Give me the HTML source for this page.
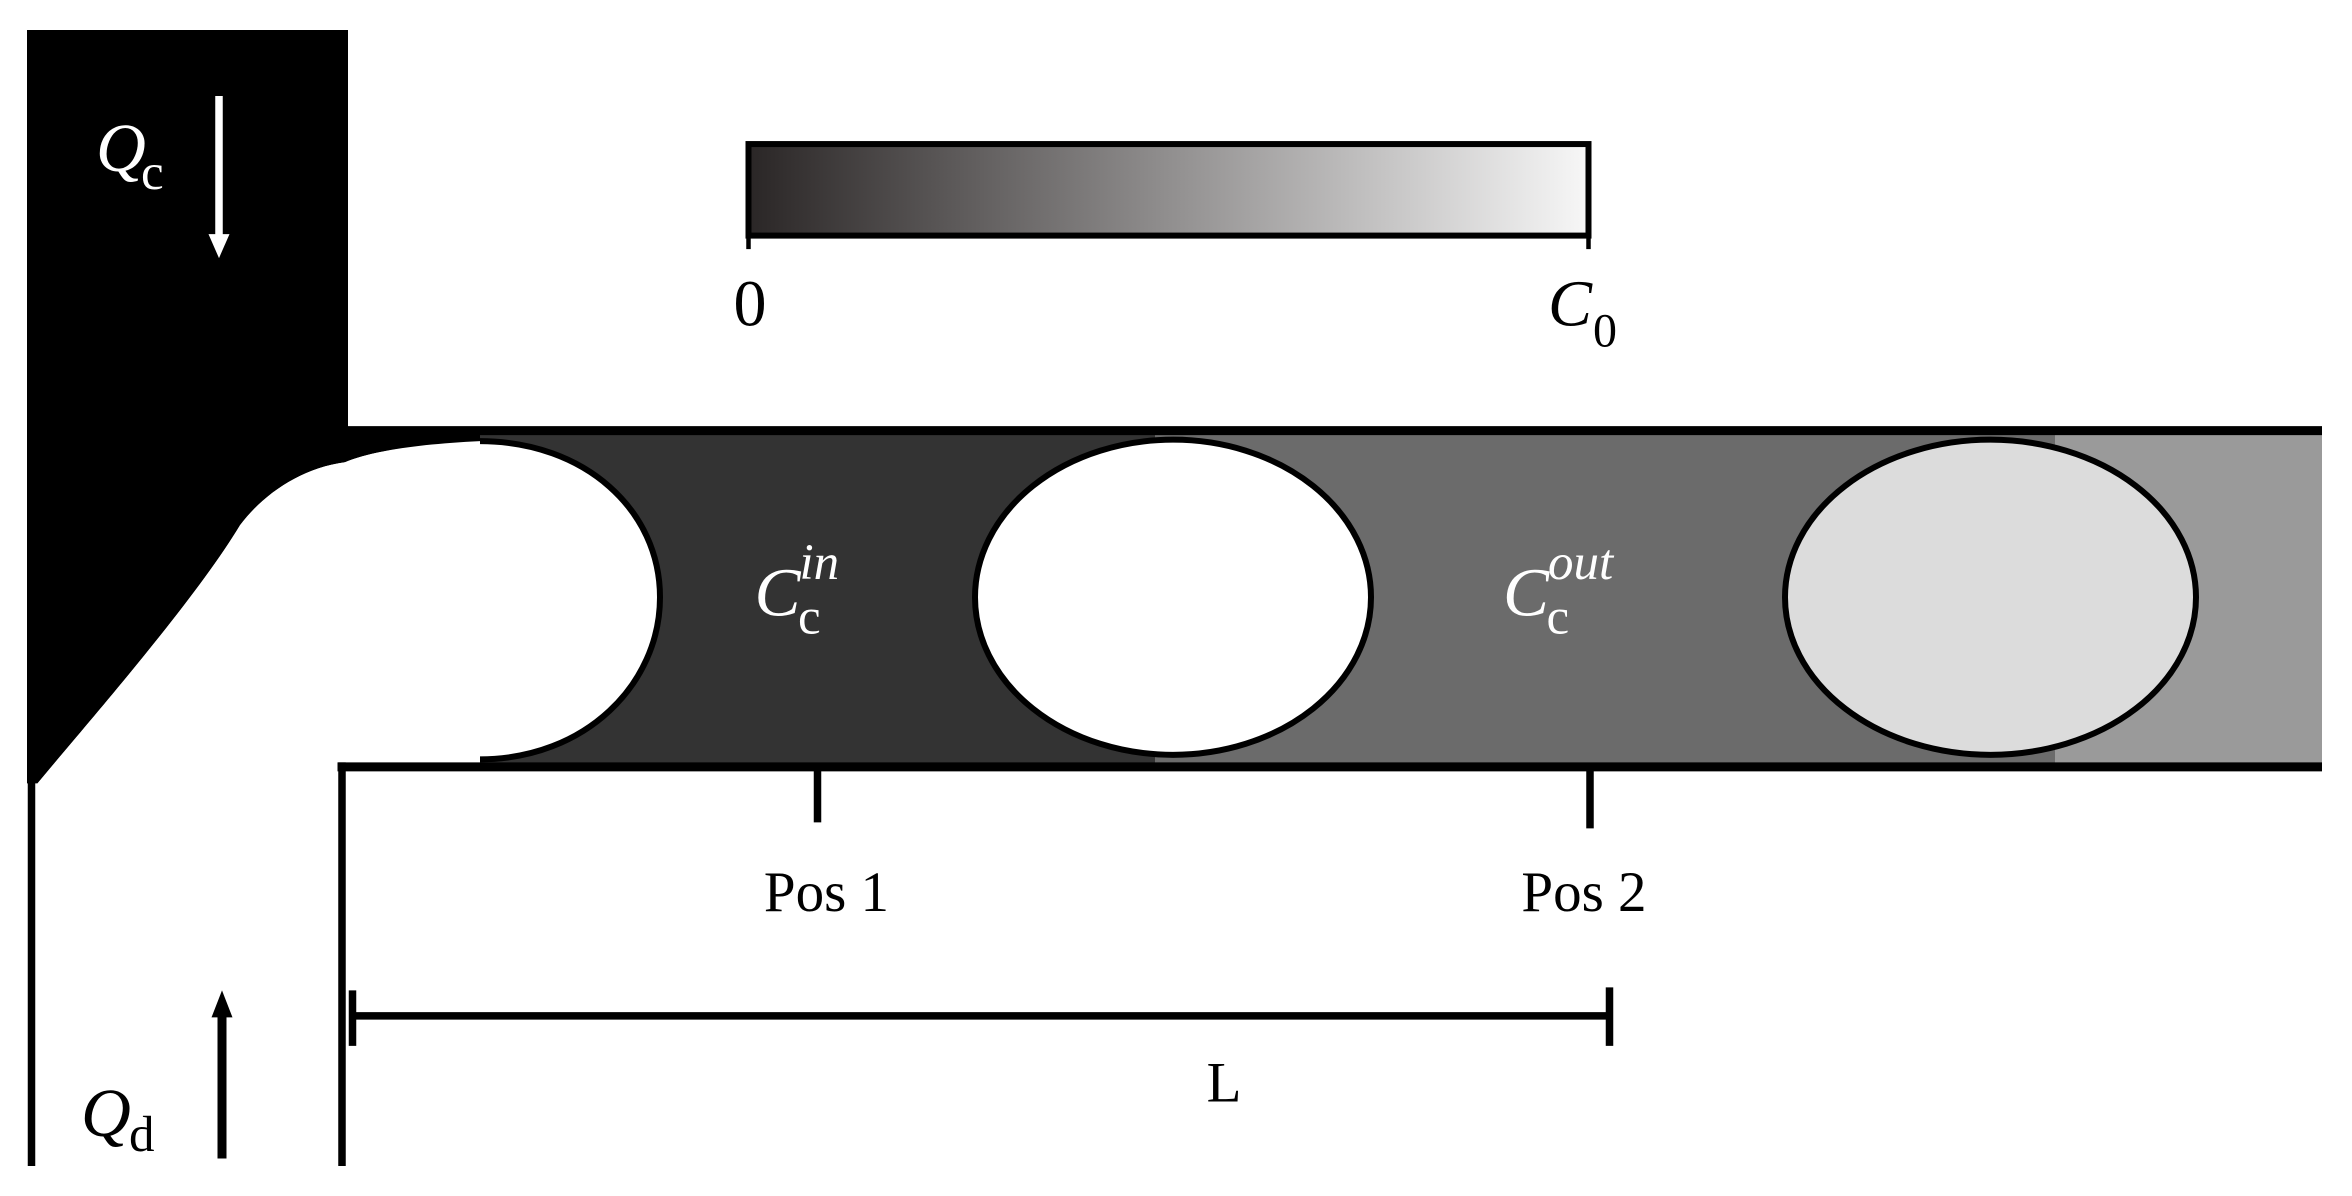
<!DOCTYPE html>
<html><head><style>html,body{margin:0;padding:0;background:#fff}svg{display:block}</style></head>
<body>
<svg width="2352" height="1196" viewBox="0 0 1568 797" preserveAspectRatio="none" xmlns="http://www.w3.org/2000/svg">
<defs>
<linearGradient id="g" x1="0" x2="1" y1="0" y2="0">
<stop offset="0" stop-color="#2a2626"/><stop offset="1" stop-color="#f7f7f7"/>
</linearGradient>
</defs>
<rect width="1568" height="797" fill="#fff"/>
<rect x="320" y="287" width="450" height="224" fill="#333"/>
<rect x="770" y="287" width="600" height="224" fill="#6b6b6b"/>
<rect x="1370" y="287" width="178" height="224" fill="#9a9a9a"/>
<path d="M18,20 L232,20 L232,287 L320,287 L320,296 C280,296 250,300 230,308 C200,312 175,330 160,350 C130,400 60,480 25,522 L18,522 Z" fill="#000"/>
<path d="M320,294 C390,294 440,340 440,398 C440,456 390,506 320,506 L228,506 L228,520 L25,522 C60,480 130,400 160,350 C175,330 200,312 230,308 C250,300 280,296 320,294 Z" fill="#fff"/>
<path d="M320,294 C390,294 440,340 440,398 C440,456 390,506 320,506" fill="none" stroke="#000" stroke-width="4"/>
<ellipse cx="782" cy="398" rx="132" ry="105" fill="#fff" stroke="#000" stroke-width="4"/>
<ellipse cx="1327" cy="398" rx="137" ry="105" fill="#dcdcdc" stroke="#000" stroke-width="4"/>
<line x1="230" y1="287" x2="1548" y2="287" stroke="#000" stroke-width="6"/>
<line x1="225" y1="511" x2="1548" y2="511" stroke="#000" stroke-width="6"/>
<line x1="228" y1="508" x2="228" y2="777" stroke="#000" stroke-width="5"/>
<line x1="21" y1="520" x2="21" y2="777" stroke="#000" stroke-width="5"/>
<rect x="499" y="96" width="560" height="61" fill="url(#g)" stroke="#000" stroke-width="4"/>
<line x1="499" y1="155" x2="499" y2="166" stroke="#000" stroke-width="3"/>
<line x1="1059" y1="155" x2="1059" y2="166" stroke="#000" stroke-width="3"/>
<text x="500" y="217" font-family="Liberation Serif, serif" font-size="44" text-anchor="middle">0</text>
<text x="1032" y="217" font-family="Liberation Serif, serif" font-size="44" font-style="italic">C</text>
<text x="1062" y="231" font-family="Liberation Serif, serif" font-size="32">0</text>
<text x="503" y="410" font-family="Liberation Serif, serif" font-size="46" font-style="italic" fill="#fff">C</text>
<text x="532" y="422" font-family="Liberation Serif, serif" font-size="34" fill="#fff">c</text>
<text x="533" y="386" font-family="Liberation Serif, serif" font-size="34" font-style="italic" fill="#fff">in</text>
<text x="1002" y="410" font-family="Liberation Serif, serif" font-size="46" font-style="italic" fill="#fff">C</text>
<text x="1031" y="422" font-family="Liberation Serif, serif" font-size="34" fill="#fff">c</text>
<text x="1032" y="386" font-family="Liberation Serif, serif" font-size="34" font-style="italic" fill="#fff">out</text>
<line x1="545" y1="512" x2="545" y2="548" stroke="#000" stroke-width="5"/>
<line x1="1060" y1="512" x2="1060" y2="552" stroke="#000" stroke-width="5"/>
<text x="551" y="607" font-family="Liberation Serif, serif" font-size="38" text-anchor="middle">Pos 1</text>
<text x="1056" y="607" font-family="Liberation Serif, serif" font-size="38" text-anchor="middle">Pos 2</text>
<line x1="235" y1="677" x2="1073" y2="677" stroke="#000" stroke-width="5"/>
<line x1="235" y1="660" x2="235" y2="697" stroke="#000" stroke-width="5"/>
<line x1="1073" y1="658" x2="1073" y2="697" stroke="#000" stroke-width="5"/>
<text x="816" y="734" font-family="Liberation Serif, serif" font-size="38" text-anchor="middle">L</text>
<text x="64" y="114" font-family="Liberation Serif, serif" font-size="46" font-style="italic" fill="#fff">Q</text>
<text x="94" y="126" font-family="Liberation Serif, serif" font-size="34" fill="#fff">c</text>
<line x1="146" y1="64" x2="146" y2="160" stroke="#fff" stroke-width="5"/>
<path d="M139,156 L146,172 L153,156 Z" fill="#fff"/>
<text x="54" y="757" font-family="Liberation Serif, serif" font-size="46" font-style="italic">Q</text>
<text x="86" y="767" font-family="Liberation Serif, serif" font-size="34">d</text>
<line x1="148" y1="772" x2="148" y2="674" stroke="#000" stroke-width="6"/>
<path d="M141,678 L148,660 L155,678 Z" fill="#000"/>
</svg>
</body></html>
